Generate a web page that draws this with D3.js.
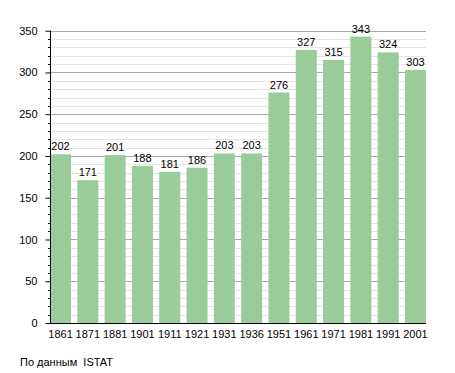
<!DOCTYPE html>
<html>
<head>
<meta charset="utf-8">
<script src="https://cdn.jsdelivr.net/npm/d3@7"></script>
<style>
  body { margin: 0; background: #fff; }
  text { font-family: "Liberation Sans Narrow", "Liberation Sans", Arial, sans-serif; font-size: 11px; fill: #000; }
</style>
</head>
<body>
<div id="chart"></div>
<script>

const years = ["1861", "1871", "1881", "1901", "1911", "1921", "1931", "1936", "1951", "1961", "1971", "1981", "1991", "2001"];
const population = [202, 171, 201, 188, 181, 186, 203, 203, 276, 327, 315, 343, 324, 303];
const yTicks = [0, 50, 100, 150, 200, 250, 300, 350];
const sourceNote = "По данным  ISTAT";

function drawChart() {

    const dimensions = {
        width: 455,
        height: 373,
        left: 50,
        right: 426,
        top: 30.7,
        bottom: 323
    };

    const svg = d3.select("#chart")
        .append("svg")
        .attr("width", dimensions.width)
        .attr("height", dimensions.height);

    const xScale = d3.scaleBand()
        .domain(years)
        .range([dimensions.left, dimensions.right])
        .paddingInner(0.23)
        .paddingOuter(0);

    const yScale = d3.scaleLinear()
        .domain([0, 350])
        .range([dimensions.bottom, dimensions.top]);

    // minor grid every 10, major every 50
    const minorValues = d3.range(10, 351, 10).filter(v => v % 50 !== 0);

    svg.append("g")
        .selectAll("line")
        .data(minorValues)
        .join("line")
        .attr("x1", dimensions.left)
        .attr("x2", dimensions.right)
        .attr("y1", d => Math.round(yScale(d)) + 0.5)
        .attr("y2", d => Math.round(yScale(d)) + 0.5)
        .attr("stroke", "#e4e4e4")
        .attr("stroke-width", 1);

    svg.append("g")
        .selectAll("line")
        .data(yTicks.filter(v => v > 0))
        .join("line")
        .attr("x1", dimensions.left)
        .attr("x2", dimensions.right)
        .attr("y1", d => Math.round(yScale(d)) + 0.5)
        .attr("y2", d => Math.round(yScale(d)) + 0.5)
        .attr("stroke", "#aaaaaa")
        .attr("stroke-width", 1);

    // bars
    svg.append("g")
        .selectAll("rect")
        .data(population)
        .join("rect")
        .attr("x", (d, i) => xScale(years[i]))
        .attr("y", d => yScale(d))
        .attr("width", xScale.bandwidth())
        .attr("height", d => dimensions.bottom - yScale(d))
        .attr("fill", "#99cc99");

    // value labels
    svg.append("g")
        .selectAll("text")
        .data(population)
        .join("text")
        .attr("x", (d, i) => xScale(years[i]) + xScale.bandwidth() / 2)
        .attr("y", d => yScale(d) - 4)
        .attr("text-anchor", "middle")
        .text(d => d);

    // y axis with minor ticks
    const yAxis = d3.axisLeft(yScale)
        .tickValues(yTicks)
        .tickSize(5)
        .tickPadding(8);

    const yAxisGroup = svg.append("g")
        .attr("transform", `translate(${dimensions.left + 0.5}, 0)`)
        .call(yAxis)
        .attr("font-size", null)
        .attr("font-family", null);

    yAxisGroup.select(".domain").attr("d", `M0,${dimensions.top}V${dimensions.bottom}`);

    yAxisGroup.append("g")
        .selectAll("line")
        .data(minorValues)
        .join("line")
        .attr("x1", -2.5)
        .attr("x2", 0)
        .attr("y1", d => Math.round(yScale(d)) + 0.5)
        .attr("y2", d => Math.round(yScale(d)) + 0.5)
        .attr("stroke", "#000");

    // x axis
    const xAxis = d3.axisBottom(xScale)
        .tickSize(0)
        .tickPadding(7);

    const xAxisGroup = svg.append("g")
        .attr("transform", `translate(0, ${dimensions.bottom + 0.5})`)
        .call(xAxis)
        .attr("font-size", null)
        .attr("font-family", null);

    xAxisGroup.select(".domain").attr("d", `M${dimensions.left},0H${dimensions.right}`);

    svg.append("text")
        .attr("x", 20)
        .attr("y", 366)
        .style("white-space", "pre")
        .text(sourceNote);
}

drawChart();
</script>
</body>
</html>
